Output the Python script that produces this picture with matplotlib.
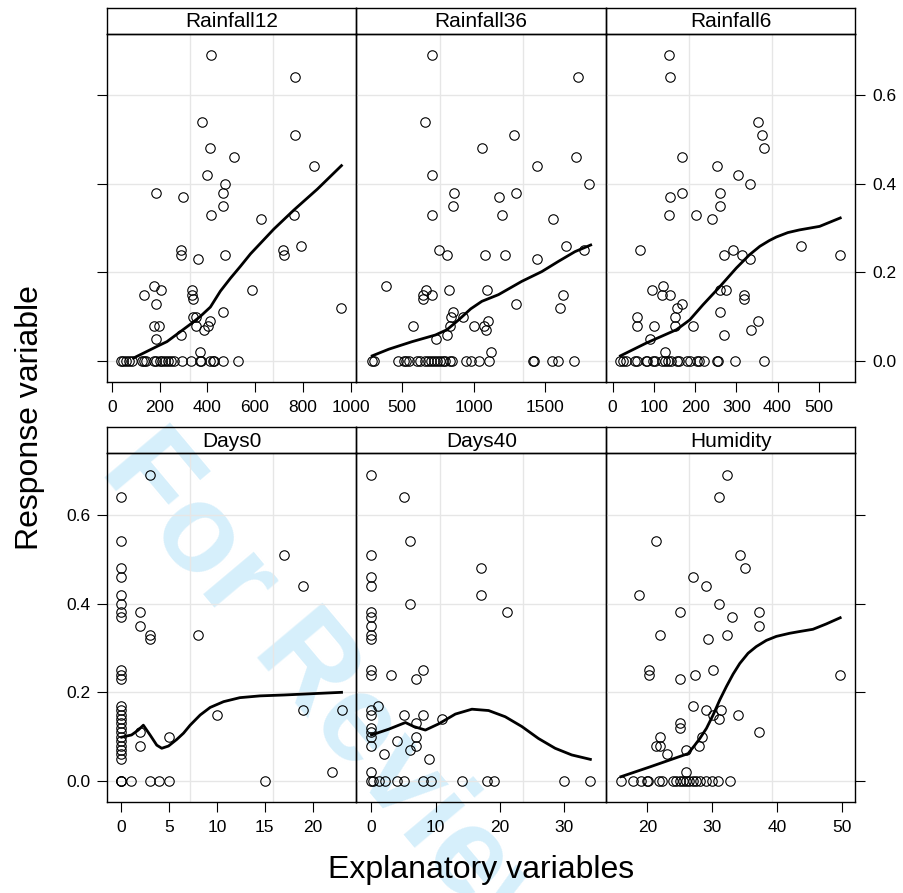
import matplotlib
matplotlib.use("Agg")
import matplotlib.pyplot as plt

plt.rcParams['font.family'] = ['Liberation Sans', 'DejaVu Sans']

# ---- data ----
rain12_x = [417, 766, 378, 766, 410, 511, 849, 399, 473, 465, 185, 298, 465, 417, 763, 625,
            791, 291, 291, 718, 723, 476, 361, 178, 206, 133, 338, 336, 340, 588, 185, 962,
            340, 354, 465, 178, 196, 354, 410, 402, 388, 290, 185, 371,
            38, 49, 60, 71, 83, 127, 133, 144, 175, 186, 200, 211, 225, 236, 248, 259,
            293, 332, 371, 374, 410, 422, 430, 466, 528]
rain12_y = [.69, .64, .54, .51, .48, .46, .44, .42, .40, .38, .38, .37, .35, .33, .33, .32,
            .26, .25, .24, .25, .24, .24, .23, .17, .16, .15, .16, .15, .14, .16, .13, .12,
            .10, .10, .11, .08, .08, .08, .09, .08, .07, .06, .05, .02] + [0.0] * 25
rain12_fit_x = [91, 196, 231, 336, 371, 413, 455, 497, 539, 581, 623, 679, 763, 861, 962]
rain12_fit_y = [.007, .035, .044, .086, .101, .122, .158, .187, .214, .242, .266, .298, .341, .388, .441]

rain36_x = [709, 1728, 658, 1284, 1058, 1714, 1444, 709, 1805, 863, 1298, 1179, 856, 709, 1200, 1553,
            1644, 1770, 756, 816, 1081, 1221, 1440, 388, 665, 826, 1095, 647, 707, 1628, 647, 1298,
            1602, 858, 840, 923, 1098, 574, 835, 1000, 1072, 1084, 816, 740, 1121,
            291, 300, 472, 514, 528, 551, 607, 626, 663, 681, 705, 724, 742, 765, 784, 802,
            835, 849, 947, 979, 1040, 1109, 1416, 1421, 1551, 1593, 1700]
rain36_y = [.69, .64, .54, .51, .48, .46, .44, .42, .40, .38, .38, .37, .35, .33, .33, .32,
            .26, .25, .25, .24, .24, .24, .23, .17, .16, .16, .16, .15, .15, .15, .14, .13,
            .12, .11, .10, .10, .09, .08, .08, .08, .08, .07, .06, .05, .02] + [0.0] * 27
rain36_fit_x = [291, 407, 570, 733, 814, 895, 980, 1058, 1174, 1337, 1477, 1593, 1709, 1819]
rain36_fit_y = [.012, .027, .044, .059, .071, .093, .118, .135, .150, .180, .202, .225, .247, .262]

rain6_x = [137, 139, 352, 363, 367, 169, 252, 303, 332, 169, 261, 140, 261, 137, 202, 240,
           456, 66, 292, 270, 314, 551, 334, 122, 95, 261, 274, 119, 140, 318, 318, 169,
           156, 58, 152, 261, 352, 60, 100, 152, 194, 336, 270, 91, 128,
           19, 26, 32, 55, 58, 81, 84, 98, 102, 121, 127, 134, 142, 155, 160, 181,
           187, 205, 210, 221, 253, 256, 297, 368]
rain6_y = [.69, .64, .54, .51, .48, .46, .44, .42, .40, .38, .38, .37, .35, .33, .33, .32,
           .26, .25, .25, .24, .24, .24, .23, .17, .16, .16, .16, .15, .15, .15, .14, .13,
           .12, .10, .10, .11, .09, .08, .08, .08, .08, .07, .06, .05, .02] + [0.0] * 24
rain6_fit_x = [19, 82, 155, 187, 219, 260, 300, 332, 357, 380, 397, 425, 453, 502, 552]
rain6_fit_y = [.012, .041, .071, .093, .127, .168, .210, .240, .259, .272, .280, .290, .296, .304, .323]

days0_x = [3, 0, 0, 17, 0, 0, 19, 0, 0, 0, 0, 2, 2, 3, 3, 8,
           0, 0, 0, 0, 0, 0, 0, 0, 0, 0, 0, 0, 0, 0, 0, 0,
           10, 19, 23, 2, 2, 5, 22,
           0, 0, 0, 1, 3, 4, 5, 15]
days0_y = [.69, .64, .54, .51, .48, .46, .44, .42, .40, .38, .37, .38, .35, .33, .32, .33,
           .25, .24, .23, .17, .16, .15, .14, .13, .12, .11, .10, .09, .08, .07, .06, .05,
           .15, .16, .16, .11, .08, .10, .02,
           0, 0, 0, 0, 0, 0, 0, 0]
days0_fit_x = [0.07, 1.1, 1.8, 2.33, 3.03, 3.73, 4.25, 4.95, 5.82, 6.52, 7.21, 8.26, 9.3, 10.7,
               12.4, 14.5, 17.0, 23.0]
days0_fit_y = [.099, .104, .115, .126, .104, .081, .074, .079, .094, .108, .126, .149, .166, .179,
               .188, .192, .194, .200]

days40_x = [0, 5, 6, 0, 17, 0, 0, 17, 6, 0, 0, 0, 0, 0, 21,
            0, 0, 3, 8, 7, 1, 0, 0, 5, 8, 11, 7, 0, 0, 0, 0,
            7, 4, 7, 6, 2, 9, 0,
            0, 0.2, 1.1, 2.1, 4, 5, 8, 9.2, 14, 18, 19, 30, 34]
days40_y = [.69, .64, .54, .51, .48, .46, .44, .42, .40, .38, .37, .35, .33, .32, .38,
            .25, .24, .24, .25, .23, .17, .16, .15, .15, .15, .14, .13, .12, .11, .10, .08,
            .10, .09, .08, .07, .06, .05, .02] + [0.0] * 13
days40_fit_x = [0.0, 2.69, 5.28, 6.57, 8.38, 10.45, 13.04, 15.62, 18.21, 20.8, 23.38, 25.97, 28.56, 31.14, 34.04]
days40_fit_y = [.104, .117, .132, .123, .115, .129, .151, .162, .159, .145, .123, .096, .074, .059, .049]

humid_x = [32.3, 31.0, 21.3, 34.3, 35.0, 27.0, 29.0, 18.7, 31.0, 25.0, 37.3, 33.0, 37.3, 22.0, 32.3, 29.3,
           20.3, 20.3, 30.1, 27.3, 25.0, 49.7, 27.0, 29.0, 31.4, 30.1, 34.0, 31.0, 25.0, 25.0, 37.3,
           22.0, 28.4, 21.3, 22.0, 28.0, 23.0, 26.0, 26.0,
           15.95, 17.85, 18.97, 19.9, 20.15, 21.85, 22.2, 23.9, 24.5, 25.03, 25.54, 25.95, 26.46,
           27.08, 27.59, 28.1, 29.03, 30.05, 30.97, 32.7]
humid_y = [.69, .64, .54, .51, .48, .46, .44, .42, .40, .38, .38, .37, .35, .33, .33, .32,
           .25, .24, .25, .24, .23, .24, .17, .16, .16, .15, .15, .14, .13, .12, .11,
           .10, .10, .08, .08, .08, .06, .07, .02] + [0.0] * 20
humid_fit_x = [15.95, 20.4, 26.3, 27.33, 28.1, 29.13, 30.15, 31.18, 32.2, 33.23, 34.26, 35.54,
               36.8, 38.36, 39.9, 41.95, 43.5, 45.54, 47.59, 49.74]
humid_fit_y = [.010, .032, .062, .081, .096, .119, .149, .183, .213, .241, .265, .288,
               .303, .317, .326, .333, .337, .342, .354, .368]

panels = [
    ("Rainfall12", rain12_x, rain12_y, rain12_fit_x, rain12_fit_y, (-20, 1025), [0, 200, 400, 600, 800, 1000]),
    ("Rainfall36", rain36_x, rain36_y, rain36_fit_x, rain36_fit_y, (181, 1926), [500, 1000, 1500]),
    ("Rainfall6", rain6_x, rain6_y, rain6_fit_x, rain6_fit_y, (-16, 589), [0, 100, 200, 300, 400, 500]),
    ("Days0", days0_x, days0_y, days0_fit_x, days0_fit_y, (-1.46, 24.56), [0, 5, 10, 15, 20]),
    ("Days40", days40_x, days40_y, days40_fit_x, days40_fit_y, (-2.33, 36.47), [0, 10, 20, 30]),
    ("Humidity", humid_x, humid_y, humid_fit_x, humid_fit_y, (13.64, 52.1), [20, 30, 40, 50]),
]
y_ticks = [0.0, 0.2, 0.4, 0.6]

W, H = 904, 893
fig = plt.figure(figsize=(W / 100, H / 100), dpi=100)

lefts = [107, 356.5, 606]
pw = 249.5
rows = [(33.5, 382), (453, 802)]  # panel top, bottom in pixels
strip_h = 26

for i, (name, xs, ys, fx, fy, xlim, xt) in enumerate(panels):
    r, c = divmod(i, 3)
    top, bot = rows[r]
    ax = fig.add_axes([lefts[c] / W, 1 - bot / H, pw / W, (bot - top) / H])
    ax.patch.set_visible(False)
    ax.set_xlim(*xlim)
    ax.set_ylim(-0.047, 0.739)
    for yv in y_ticks:
        ax.axhline(yv, color='#e6e6e6', lw=1, zorder=1)
    for fr in (1 / 3, 2 / 3):
        ax.axvline(xlim[0] + fr * (xlim[1] - xlim[0]), color='#e6e6e6', lw=1, zorder=1)
    ax.plot(xs, ys, 'o', mfc='none', mec='black', mew=0.8, ms=6.8, zorder=3)
    ax.plot(fx, fy, color='black', lw=2, zorder=4)
    for s in ax.spines.values():
        s.set_linewidth(1.0)
    ax.set_xticks(xt)
    ax.set_xticklabels([str(v) for v in xt])
    ax.tick_params(axis='x', direction='out', length=7, width=0.8, labelsize=12.5, pad=6)
    ax.set_yticks(y_ticks)
    ax.tick_params(axis='y', direction='out', length=7, width=0.8, labelsize=12.5, pad=5,
                   left=False, right=False, labelleft=False, labelright=False)
    if c == 0:
        ax.tick_params(axis='y', left=True, labelleft=(r == 1))
    if c == 2:
        ax.tick_params(axis='y', right=True, labelright=(r == 0))
    ax.set_yticklabels(["0.0", "0.2", "0.4", "0.6"])

    # strip
    sax = fig.add_axes([lefts[c] / W, 1 - top / H, pw / W, strip_h / H])
    sax.patch.set_visible(False)
    sax.set_xticks([])
    sax.set_yticks([])
    for s in sax.spines.values():
        s.set_linewidth(1.0)
    sax.text(0.5, 0.45, name, ha='center', va='center', fontsize=15, transform=sax.transAxes)

fig.text(30 / W, 1 - 418 / H, "Response variable", rotation=90, ha='center', va='center', fontsize=23)
fig.text(481 / W, 1 - 870 / H, "Explanatory variables", ha='center', va='center', fontsize=23)

# watermark
fig.text(338 / W, 1 - 705 / H, "For Review", rotation=-50, ha='center', va='center',
         fontsize=90, fontweight='bold', color='#d6effb', zorder=-1)

fig.savefig("out.png", dpi=100)
